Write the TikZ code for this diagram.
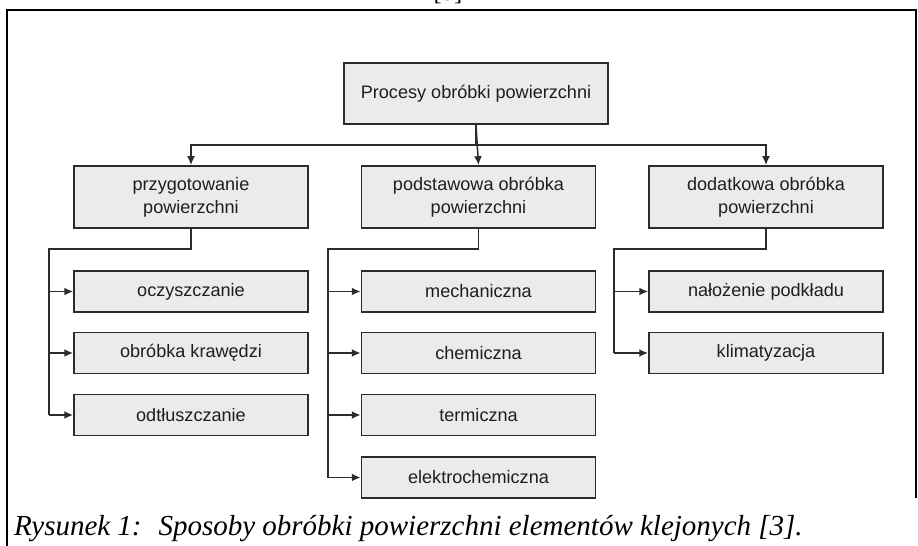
\documentclass[tikz,border=0pt]{standalone}
\usepackage{fontspec}
\setmainfont{Liberation Serif}
\setsansfont{Liberation Sans}
\definecolor{boxfill}{HTML}{EBEBEB}
\definecolor{boxline}{HTML}{2B2B2B}
\definecolor{textgray}{HTML}{1E1E1E}
\usetikzlibrary{arrows.meta, positioning, calc}

\begin{document}
\begin{tikzpicture}[
    x=0.02cm, y=-0.02cm,
    font=\sffamily\fontsize{10.3}{13}\selectfont\color{textgray},
    conn/.style={
        boxline, line width=0.85pt,
    },
    arr/.style={
        conn, -{Latex[length=5pt, width=4.5pt]},
    },
    procbox/.style={
        rectangle, draw=boxline, fill=boxfill, line width=1.1pt,
        inner sep=0pt, align=center,
    },
    mainbox/.style={
        procbox, minimum width=5.28cm, minimum height=1.22cm,
    },
    groupbox/.style={
        procbox, minimum width=4.68cm, minimum height=1.24cm,
    },
    stepbox/.style={
        procbox, minimum width=4.68cm, minimum height=0.82cm,
    },
    frameline/.style={
        black, line width=0.8pt,
    },
]

\useasboundingbox (0,0) rectangle (918,546);

% -- frame and caption --
\draw[frameline] (7,546) -- (7,10) -- (916,10) -- (916,498);
\node[anchor=base, font=\rmfamily\fontsize{14}{16}\selectfont] (refmark) at (448,1) {[3]};
\node[anchor=base west, font=\rmfamily\itshape\fontsize{16.5}{19}\selectfont\color{black}] (cap)
    at (8,535) {Rysunek 1:~ Sposoby obróbki powierzchni elementów klejonych [3].};

% -- top --
\node[mainbox] (top) at (476,93.5) {Procesy obróbki powierzchni};

% -- groups --
\node[groupbox] (prep)  at (191,197)   {przygotowanie\\powierzchni};
\node[groupbox] (basic) at (478.5,197) {podstawowa obróbka\\powierzchni};
\node[groupbox] (extra) at (766,197)   {dodatkowa obróbka\\powierzchni};

\coordinate (bus) at (0,145);
\draw[arr] (top.south) -- (top.south |- bus) -| (prep.north);
\draw[arr] (top.south) -- (basic.north);
\draw[arr] (top.south) -- (top.south |- bus) -| (extra.north);

% -- steps: przygotowanie --
\node[stepbox] (c11) at (191,291.5) {oczyszczanie};
\node[stepbox] (c12) at (191,353)   {obróbka krawędzi};
\node[stepbox] (c13) at (191,415)   {odtłuszczanie};

\coordinate (tapA) at (49,249);
\draw[conn] (prep.south) |- (tapA) -- (tapA |- c13.west);
\draw[arr] (tapA |- c11.west) -- (c11.west);
\draw[arr] (tapA |- c12.west) -- (c12.west);
\draw[arr] (tapA |- c13.west) -- (c13.west);

% -- steps: podstawowa --
\node[stepbox] (c21) at (478.5,291.5) {mechaniczna};
\node[stepbox] (c22) at (478.5,353)   {chemiczna};
\node[stepbox] (c23) at (478.5,415)   {termiczna};
\node[stepbox] (c24) at (478.5,477.5) {elektrochemiczna};

\coordinate (tapB) at (328,249);
\draw[conn] (basic.south) |- (tapB) -- (tapB |- c24.west);
\draw[arr] (tapB |- c21.west) -- (c21.west);
\draw[arr] (tapB |- c22.west) -- (c22.west);
\draw[arr] (tapB |- c23.west) -- (c23.west);
\draw[arr] (tapB |- c24.west) -- (c24.west);

% -- steps: dodatkowa --
\node[stepbox] (c31) at (766,291.5) {nałożenie podkładu};
\node[stepbox] (c32) at (766,353)   {klimatyzacja};

\coordinate (tapC) at (614,249);
\draw[conn] (extra.south) |- (tapC) -- (tapC |- c32.west);
\draw[arr] (tapC |- c31.west) -- (c31.west);
\draw[arr] (tapC |- c32.west) -- (c32.west);

\end{tikzpicture}
\end{document}
